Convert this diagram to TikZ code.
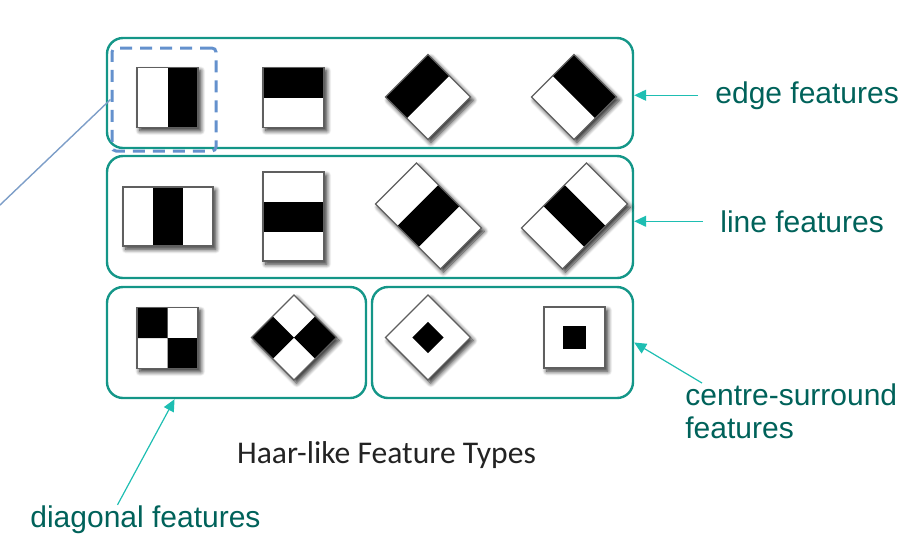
\documentclass[tikz,border=0pt]{standalone}
\usepackage{fontspec}
\setmainfont{Liberation Sans}
\newfontfamily\captionfont{Carlito}
\usetikzlibrary{arrows.meta,calc,fit,shadows.blur}

\definecolor{boxteal}{RGB}{20,150,136}
\definecolor{arrteal}{RGB}{30,190,178}
\definecolor{txtteal}{RGB}{0,98,90}
\definecolor{hlblue}{RGB}{100,145,205}
\definecolor{leadblue}{RGB}{125,158,200}
\definecolor{featgray}{RGB}{95,95,95}

\tikzset{
  grp/.style={draw=boxteal, line width=1.2pt, rounded corners=8pt, inner sep=0pt},
  hlbox/.style={draw=hlblue, line width=1.5pt, dash pattern=on 6pt off 4pt, rounded corners=2pt, inner sep=0pt},
  featbg/.style={fill=white, blur shadow={shadow xshift=1.4pt, shadow yshift=-1.6pt, shadow blur radius=2.2pt, shadow blur steps=8, shadow opacity=85}},
  feat/.style={draw=featgray, line width=0.6pt},
  lbl/.style={text=txtteal, inner sep=0pt, font=\fontsize{15pt}{16.5pt}\selectfont},
  arr/.style={draw=arrteal, line width=0.6pt, -{Triangle[length=6pt,width=5.5pt]}},
}

\begin{document}
\begin{tikzpicture}[x=0.5pt,y=-0.5pt]
\useasboundingbox (0,0) rectangle (911,548);
% Rahmen der vier Gruppen
\node[grp, fit={(107,38) (633,148)}] (edgebox) {};
\node[grp, fit={(107,156) (633,278)}] (linebox) {};
\node[grp, fit={(107,287) (366,398)}] (diagbox) {};
\node[grp, fit={(372,287) (633,398)}] (centrebox) {};
%Kantenmerkmale
\begin{scope}[shift={(167.5,97.5)}]
  \path[featbg] (-30.5,-30) rectangle (30.5,30);
  \fill (0,-30) rectangle (30.5,30);
  \draw[feat] (-30.5,-30) rectangle (30.5,30);
\end{scope}
\begin{scope}[shift={(293.5,97.5)}]
  \path[featbg] (-30.5,-30) rectangle (30.5,30);
  \fill (-30.5,-30) rectangle (30.5,0);
  \draw[feat] (-30.5,-30) rectangle (30.5,30);
\end{scope}
\foreach \cx/\rot in {428/45,574/-45}{
\begin{scope}[shift={(\cx,97)},rotate=\rot]
  \path[featbg] (-30,-30) rectangle (30,30);
  \fill (-30,-30) rectangle (30,0);
  \draw[feat] (-30,-30) rectangle (30,30);
\end{scope}
}
%Linienmerkmale
\begin{scope}[shift={(168,216.5)}]
  \path[featbg] (-45,-29.5) rectangle (45,29.5);
  \fill (-15,-29.5) rectangle (15,29.5);
  \draw[feat] (-45,-29.5) rectangle (45,29.5);
\end{scope}
\begin{scope}[shift={(293.5,216.5)}]
  \path[featbg] (-30.5,-44.5) rectangle (30.5,44.5);
  \fill (-30.5,-15) rectangle (30.5,15);
  \draw[feat] (-30.5,-44.5) rectangle (30.5,44.5);
\end{scope}
\foreach \cx/\rot in {428.5/45,574.5/-45}{
\begin{scope}[shift={(\cx,216)},rotate=\rot]
  \path[featbg] (-29,-46) rectangle (29,46);
  \fill (-29,-15) rectangle (29,15);
  \draw[feat] (-29,-46) rectangle (29,46);
\end{scope}
}
%Diagonalmerkmale
\foreach \cx/\cy/\rot/\s in {167.5/338/0/30.5,294/337.5/45/30}{
\begin{scope}[shift={(\cx,\cy)},rotate=\rot]
  \path[featbg] (-\s,-\s) rectangle (\s,\s);
  \fill (-\s,-\s) rectangle (0,0) (0,0) rectangle (\s,\s);
  \draw[feat] (-\s,-\s) rectangle (\s,\s);
\end{scope}
}
%Zentrum-Umgebung
\foreach \cx/\rot/\s/\k in {428/45/30/11,574.5/0/30.5/11.5}{
\begin{scope}[shift={(\cx,337.5)},rotate=\rot]
  \path[featbg] (-\s,-\s) rectangle (\s,\s);
  \fill (-\k,-\k) rectangle (\k,\k);
  \draw[feat] (-\s,-\s) rectangle (\s,\s);
\end{scope}
}
% markiertes Merkmal
\node[hlbox, fit={(112,48) (216,151)}] (hl) {};
\coordinate (lead) at (0,205);
\draw[leadblue, line width=0.7pt] (lead) -- (hl.west);
% Beschriftungen
\node[lbl, anchor=base west] (edgelbl) at (715,103) {edge features};
\node[lbl, anchor=base west] (linelbl) at (720,232) {line features};
\node[lbl, anchor=north west, align=left] (cslbl) at (685,383) {centre-surround\\features};
\node[lbl, anchor=base west] (diaglbl) at (30,527) {diagonal features};
\node[anchor=base, inner sep=0pt, text={rgb,255:red,35;green,35;blue,35}, font=\captionfont\fontsize{15.8pt}{18pt}\selectfont] (title) at (386.5,463) {Haar-like Feature Types};
% Pfeile
\draw[arr, shorten <=8.5pt] (edgelbl.west) -- (edgebox.east |- edgelbl.west);
\draw[arr, shorten <=8.5pt] (linelbl.west) -- (linebox.east |- linelbl.west);
\coordinate (csfoot) at ([xshift=8.5pt]cslbl.north west);
\draw[arr] (csfoot) -- (centrebox.east);
\coordinate (diagfoot) at ([xshift=-14pt]diaglbl.north);
\draw[arr] (diagfoot) -- ($(diagbox.south west)!0.263!(diagbox.south east)$);
\end{tikzpicture}
\end{document}
